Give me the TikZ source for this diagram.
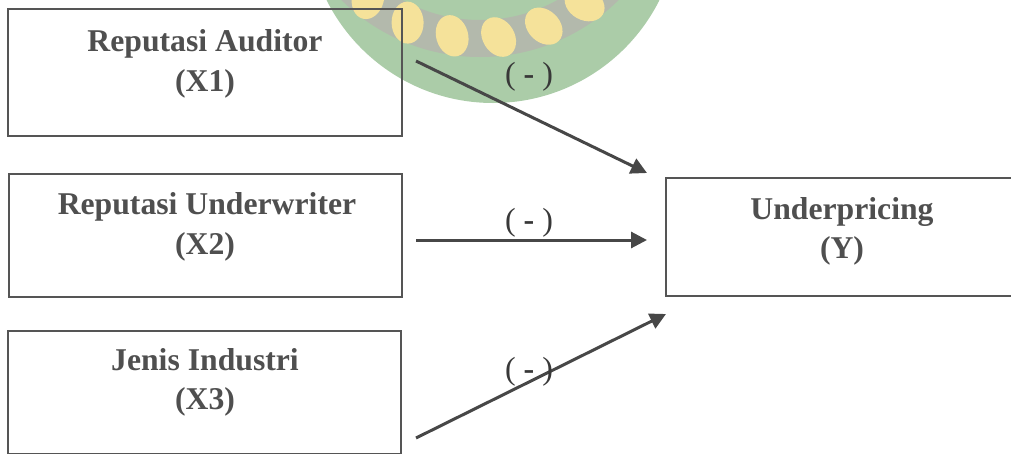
\documentclass[tikz,border=0pt]{standalone}
\usepackage{fontspec}
\setmainfont{Liberation Serif}
\usetikzlibrary{arrows.meta}

\definecolor{boxgray}{HTML}{555555}
\definecolor{textgray}{HTML}{4F4F4F}
\definecolor{signgray}{HTML}{383838}
\definecolor{linegray}{HTML}{474747}
\definecolor{sealgreen}{HTML}{ABCCA8}
\definecolor{sealband}{HTML}{B3B9AC}
\definecolor{sealpetal}{HTML}{F5E29A}

\tikzset{
  box/.style={draw=boxgray, line width=2pt, rectangle, inner sep=0pt},
  title/.style={font=\fontsize{31.7}{40}\selectfont\bfseries, text=textgray,
                anchor=base, inner sep=0pt},
  sign/.style={font=\fontsize{32}{38}\selectfont, text=signgray, inner sep=0pt},
  link/.style={draw=linegray, line width=3pt,
               -{Triangle[length=16pt,width=16pt]}},
}

\begin{document}
\begin{tikzpicture}[x=1pt, y=-1pt]
  \useasboundingbox (0,0) rectangle (1011,453);
  \clip (0,0) rectangle (1011,453);

  % faint seal in the background
  \begin{scope}
    \fill[sealgreen] (493,-83) circle [radius=186];
    \clip (493,-83) circle [radius=186];
    \fill[sealband, even odd rule] (480,-140) circle [radius=197] circle [radius=160];
    \foreach \a in {-54,-39,-24,-9,6,21,36,51,66}
      \fill[sealpetal] ({480+178*sin(\a)},{-140+178*cos(\a)})
        ellipse [x radius=16, y radius=21, rotate=\a+25];
  \end{scope}

  % boxes
  \node[box, minimum width=394pt, minimum height=127pt] (x1) at (205,72.5) {};
  \node[box, minimum width=393pt, minimum height=123pt] (x2) at (205.5,235.5) {};
  \node[box, minimum width=393pt, minimum height=123pt] (x3) at (204.5,392.5) {};
  \node[box, minimum width=352pt, minimum height=118pt] (y)  at (842,237) {};

  % box titles
  \node[title] (x1name) at (205,51)  {Reputasi Auditor};
  \node[title] (x1tag)  at (205,91)  {(X1)};
  \node[title] (x2name) at (207,214) {Reputasi Underwriter};
  \node[title] (x2tag)  at (205,254) {(X2)};
  \node[title] (x3name) at (205,370) {Jenis Industri};
  \node[title] (x3tag)  at (205,409) {(X3)};
  \node[title] (yname)  at (842,219) {Underpricing};
  \node[title] (ytag)   at (842,258) {(Y)};

  % arrow ends
  \coordinate (s1) at (416,61);
  \coordinate (e1) at (647,173);
  \coordinate (s2) at (416,240);
  \coordinate (e2) at (647,240);
  \coordinate (s3) at (416,438);
  \coordinate (e3) at (666,314);

  \draw[link] (s1) -- (e1);
  \draw[link] (s2) -- (e2);
  \draw[link] (s3) -- (e3);

  % signs of the effects
  \node[sign] (sign1) at (529,77)  {( \textbf{-} )};
  \node[sign] (sign2) at (529,223) {( \textbf{-} )};
  \node[sign] (sign3) at (529,372) {( \textbf{-} )};
\end{tikzpicture}
\end{document}
